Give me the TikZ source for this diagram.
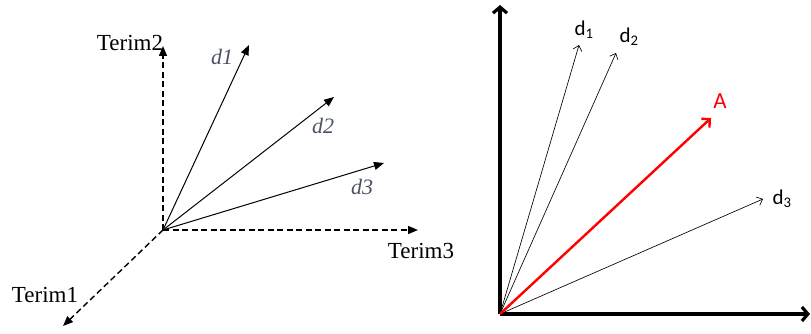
\documentclass[tikz,border=0pt]{standalone}
\usepackage{fontspec}
\setmainfont{Liberation Serif}
\newfontfamily\calibrifont{Carlito}
\usepackage{tikz}
\usetikzlibrary{arrows.meta, positioning, calc}

\definecolor{vecgray}{RGB}{75,82,100}

\begin{document}
\begin{tikzpicture}[
  x=1pt, y=-1pt,
  axisdash/.style = {dashed, line width=1.4pt, dash pattern=on 6pt off 3.5pt, -{Triangle[length=10pt, width=8pt]}},
  docvec/.style   = {line width=1pt, -{Triangle[length=10pt, width=8pt]}},
  termlbl/.style  = {font=\fontsize{23}{25}\selectfont, inner sep=0pt},
  doclbl/.style   = {font=\fontsize{22}{24}\selectfont\itshape, text=vecgray, inner sep=0pt},
  bigaxis/.style  = {line width=3.2pt, -{Straight Barb[length=6pt, width=14pt, line width=3.2pt]}},
  thinvec/.style  = {line width=0.65pt, -{Straight Barb[length=5pt, width=9pt]}},
  avec/.style     = {red, line width=2.4pt, -{Straight Barb[length=6pt, width=12pt, line width=2.4pt]}},
  rlbl/.style     = {font=\calibrifont\fontsize{21}{23}\selectfont, inner sep=0pt},
]
  \useasboundingbox (0,0) rectangle (811,334);

  % Left: term space
  \coordinate (O)  at (163,230);
  \coordinate (t1) at (63,326);
  \coordinate (t2) at (163,46);
  \coordinate (t3) at (418,230);
  \coordinate (v1) at (249,45);
  \coordinate (v2) at (334,97);
  \coordinate (v3) at (384,163);

  \draw[axisdash] (O) -- (t1);
  \draw[axisdash] (O) -- (t2);
  \draw[axisdash] (O) -- (t3);
  \draw[docvec]   (O) -- (v1);
  \draw[docvec]   (O) -- (v2);
  \draw[docvec]   (O) -- (v3);

  \node[termlbl] (T1) at (45,295)  {Terim1};
  \node[termlbl] (T2) at (130,43)  {Terim2};
  \node[termlbl] (T3) at (421,251) {Terim3};
  \node[doclbl]  (D1) at (222,57)  {d1};
  \node[doclbl]  (D2) at (323,126) {d2};
  \node[doclbl]  (D3) at (362,187) {d3};

  % Right: query vector among documents
  \coordinate (Q)  at (500,314);
  \coordinate (qy) at (500,5);
  \coordinate (qx) at (810,314);
  \coordinate (w1) at (579,45);
  \coordinate (w2) at (616,53);
  \coordinate (w3) at (763,199);
  \coordinate (wa) at (711,118);

  \draw[bigaxis] (Q) -- (qy);
  \draw[bigaxis] (Q) -- (qx);
  \draw[thinvec] (Q) -- (w1);
  \draw[thinvec] (Q) -- (w2);
  \draw[thinvec] (Q) -- (w3);
  \draw[avec]    (Q) -- (wa);

  \node[rlbl]           (R1) at (584,30)  {d\textsubscript{1}};
  \node[rlbl]           (R2) at (629,37)  {d\textsubscript{2}};
  \node[rlbl]           (R3) at (782,199) {d\textsubscript{3}};
  \node[rlbl, text=red, font=\calibrifont\fontsize{23}{25}\selectfont] (RA) at (720,101) {A};
\end{tikzpicture}
\end{document}
